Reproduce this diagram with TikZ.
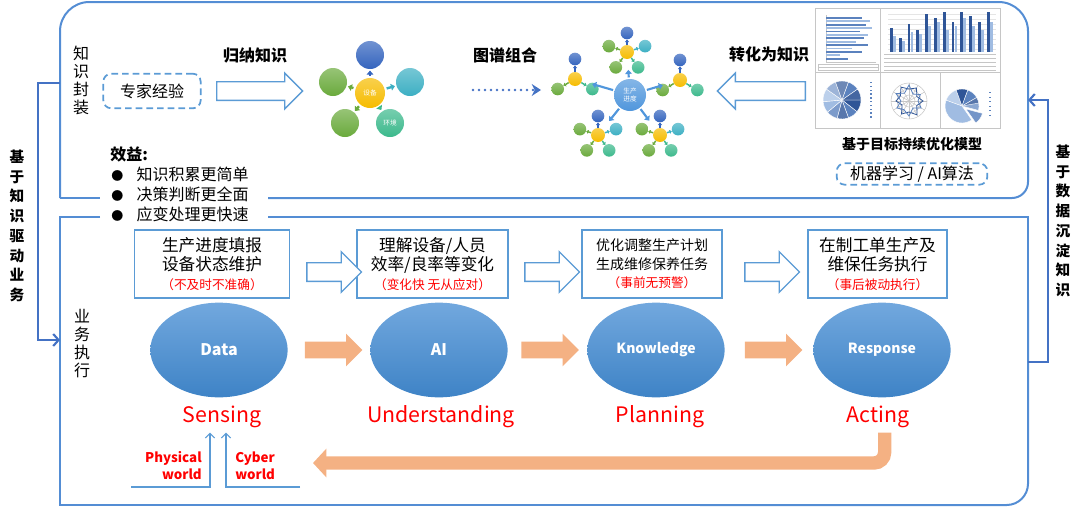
\documentclass[tikz,border=0pt]{standalone}
\usepackage{fontspec}
\setmainfont{Noto Sans CJK SC}
\usetikzlibrary{shapes.geometric, shapes.arrows, arrows.meta, positioning, calc}

\definecolor{frameblue}{RGB}{84,141,212}
\definecolor{linkblue}{RGB}{68,114,196}
\definecolor{boxblue}{RGB}{91,155,213}
\definecolor{salmon}{RGB}{244,177,131}
\definecolor{ellTop}{RGB}{114,168,222}
\definecolor{ellBot}{RGB}{62,131,198}
\definecolor{nodeBlue}{RGB}{52,100,190}
\definecolor{nodeYellow}{RGB}{246,188,0}
\definecolor{nodeGreen}{RGB}{106,170,60}
\definecolor{nodeTeal}{RGB}{60,175,195}
\definecolor{nodeMint}{RGB}{60,185,140}
\definecolor{nodeCore}{RGB}{80,150,220}
\definecolor{chartDark}{RGB}{47,85,151}
\definecolor{chartMid}{RGB}{91,130,190}
\definecolor{chartLight}{RGB}{160,188,226}

\newcommand{\warnline}[1]{{\fontsize{9.5}{14}\selectfont\color{red}#1}}

\tikzset{
  % frames and side connectors
  panelframe/.style={draw=frameblue, line width=1.5pt},
  sidelink/.style={draw=linkblue, line width=1.6pt, -{Straight Barb[length=4pt, width=9pt, line width=1.6pt]}},
  sidelabel/.style={align=center, font=\bfseries\fontsize{11}{14.8}\selectfont},
  seclabel/.style={align=center, font=\fontsize{12}{13.5}\selectfont},
  % top row
  headtext/.style={font=\bfseries\fontsize{12}{14}\selectfont},
  dashbox/.style={rectangle, rounded corners=6pt, draw=boxblue, line width=1.3pt, dash pattern=on 5pt off 3pt, font=\fontsize{12}{14}\selectfont},
  hollowarrow/.style={single arrow, draw=boxblue, line width=1pt, fill=white, inner xsep=0pt, inner ysep=6.5pt,
    minimum height=#1, minimum width=26pt, single arrow head extend=6.5pt},
  dotarrow/.style={draw=linkblue, line width=2pt, line cap=round, dash pattern=on 0pt off 4.5pt, -{Stealth[length=7pt, width=9pt]}},
  core/.style={circle, inner sep=0pt, top color=#1!70!white, bottom color=#1, draw=none, text=white, align=center, font=\fontsize{5}{5.5}\selectfont},
  sat/.style={circle, inner sep=0pt, top color=#1!70!white, bottom color=#1, draw=none, text=white, align=center, font=\fontsize{5}{5.5}\selectfont},
  graphtip/.style={draw=#1, line width=1.8pt, -{Triangle[length=3pt, width=5pt]}, shorten <=1.5pt, shorten >=1pt},
  chartline/.style={draw=gray!45, line width=0.4pt},
  % bottom row
  stagebox/.style={rectangle, draw=boxblue, line width=1.2pt, fill=white, minimum height=51pt, align=center, inner sep=2pt, font=\fontsize{12.5}{14}\selectfont},
  stage/.style={ellipse, minimum width=103pt, minimum height=71pt, top color=ellTop, bottom color=ellBot, text=white, font=\bfseries\fontsize{12}{14}\selectfont},
  stagename/.style={text=red, font=\fontsize{16}{18}\selectfont},
  flowarrow/.style={single arrow, fill=salmon, draw=none, inner xsep=0pt, inner ysep=6pt, minimum height=43pt, minimum width=24pt, single arrow head extend=6pt},
  returnarrow/.style={draw=salmon, line width=10pt, rounded corners=8pt, -{Triangle[length=10pt, width=21pt]}},
  worldlink/.style={draw=boxblue, line width=0.8pt, -{Straight Barb[length=3.5pt, width=7pt]}},
  worldtext/.style={text=red, font=\bfseries\fontsize{10}{12.8}\selectfont, inner sep=0pt},
}

\begin{document}
\begin{tikzpicture}[x=0.75pt, y=-0.75pt]
  \useasboundingbox (0,0) rectangle (1080,507);

  % Frames
  \draw[panelframe, rounded corners=22pt] (60,198) -- (60,2) -- (1028,2) -- (1028,100);
  \draw[panelframe, rounded corners=12pt] (1028,100) -- (1028,198) -- (268,198);
  \draw[panelframe] (60,198) -- (100,198);
  \draw[panelframe] (100,217) -- (60,217) -- (60,505) -- (700,505);
  \draw[panelframe, rounded corners=16pt] (700,505) -- (1028,505) -- (1028,300);
  \draw[panelframe] (1028,300) -- (1028,217) -- (268,217);

  % Side connectors
  \coordinate (knowOut) at (60,83);
  \coordinate (bizIn) at (60,340);
  \coordinate (bizOut) at (1028,362);
  \coordinate (dataIn) at (1028,100);
  \draw[sidelink] (knowOut) -- ++(-22,0) |- (bizIn);
  \draw[sidelink] (bizOut) -- ++(20,0) |- (dataIn);
  \node[sidelabel] (leftLabel) at (17,226) {基\\于\\知\\识\\驱\\动\\业\\务};
  \node[sidelabel] (rightLabel) at (1063,221) {基\\于\\数\\据\\沉\\淀\\知\\识};

  % Section labels
  \node[seclabel] (knowLabel) at (81,80) {知\\识\\封\\装};
  \node[seclabel] (bizLabel) at (82,344) {业\\务\\执\\行};

  % Top row: expert knowledge
  \node[dashbox, minimum width=73pt, minimum height=26pt] (expert) at (152,91) {专家经验};
  \node[hollowarrow=64.5pt] (induce) at (255,91) {};
  \node[headtext] (induceT) at (255,55) {归纳知识};

  % Device graph
  \node[core=nodeYellow, minimum size=22.5pt] (dev) at (370,93) {设备};
  \foreach \n/\x/\y/\c/\t in {devT/370/55/nodeBlue/{}, devL/333/82/nodeGreen/{}, devR/410/82/nodeTeal/{},
                              devBL/345/123/nodeGreen/{}, devBR/390/123/nodeMint/环境} {
    \node[sat=\c, minimum size=21pt] (\n) at (\x,\y) {\t};
    \draw[graphtip=\c] (dev) -- (\n);
  }

  \node[headtext] (graphT) at (505,55) {图谱组合};
  \coordinate (dotStart) at (473,90);
  \coordinate (dotEnd) at (541,90);
  \draw[dotarrow] (dotStart) -- (dotEnd);

  % Production graph
  \node[core=nodeCore, minimum size=24pt] (prog) at (630,95) {生产\\进度};
  \foreach \k/\x/\y in {cT/627/52, cBL/598/135, cBR/660/135} {
    \node[core=nodeYellow, minimum size=10.5pt] (\k) at (\x,\y) {};
    \foreach \a/\c in {270/nodeBlue, 198/nodeGreen, 342/nodeTeal, 126/nodeGreen, 54/nodeMint} {
      \node[sat=\c, minimum size=9.5pt] (\k\a) at ($(\k)+(\a:19)$) {};
      \draw[draw=\c, line width=1.1pt, -{Triangle[length=1.8pt, width=3pt]}] (\k) -- (\k\a);
    }
  }
  \foreach \k/\x/\y in {cL/575/79, cR/680/80} {
    \node[core=nodeYellow, minimum size=10.5pt] (\k) at (\x,\y) {};
    \foreach \a/\c in {270/nodeBlue, 150/nodeGreen, 30/nodeMint} {
      \node[sat=\c, minimum size=9.5pt] (\k\a) at ($(\k)+(\a:20)$) {};
      \draw[draw=\c, line width=1.1pt, -{Triangle[length=1.8pt, width=3pt]}] (\k) -- (\k\a);
    }
  }
  \foreach \k in {cT, cL, cR, cBL, cBR}
    \draw[draw=nodeCore, line width=1.6pt, -{Triangle[length=3pt, width=5pt]}, shorten <=1pt, shorten >=8pt] (prog) -- (\k);

  % Models to knowledge
  \node[headtext] (convT) at (769,54) {转化为知识};
  \node[hollowarrow=66pt, shape border rotate=180] (convert) at (766,91) {};

  % Chart panel
  \fill[white] (815,8) rectangle (1000,128);
  \draw[chartline] (815,8) rectangle (1000,128);
  \draw[chartline] (880,8) -- (880,128) (815,72) -- (1000,72) (940,72) -- (940,128);
  % bars
  \draw[chartline] (826,15) -- (826,62) -- (876,62);
  \foreach \i/\l/\c in {0/36/chartMid, 1/44/chartLight, 2/40/chartMid, 3/46/chartLight, 4/34/chartMid, 5/42/chartLight,
                        6/38/chartMid, 7/30/chartLight, 8/42/chartMid, 9/26/chartLight, 10/36/chartMid, 11/14/chartLight, 12/22/chartMid}
    \fill[\c] (826,17+3.4*\i) rectangle ++(\l,1.7);
  \draw[chartline] (818,64) rectangle (878,70);
  \draw[chartline] (818,67) -- (878,67);
  % columns
  \foreach \y in {14,19,...,49} \draw[gray!20, line width=0.3pt] (888,\y) -- (996,\y);
  \foreach \i/\a/\b in {0/24/16, 1/14/11, 2/28/20, 3/22/18, 4/38/26, 5/34/30, 6/40/22, 7/30/26, 8/40/34,
                        9/36/26, 10/30/22, 11/40/30}
  {
    \fill[chartDark] (890+8.8*\i,52) rectangle ++(2.8,-\a);
    \fill[chartLight] (893+8.8*\i,52) rectangle ++(2.8,-\b);
  }
  \foreach \y in {54,58,62,66,70} \draw[chartline] (884,\y) -- (996,\y);
  % pie
  \foreach \s/\e/\c in {0/38/chartDark, 38/70/chartMid, 70/105/chartDark!80!white, 105/140/chartMid!80!white,
                        140/175/chartLight, 175/215/chartLight!70!white, 215/250/chartMid!60!white,
                        250/290/chartDark!70!white, 290/325/chartMid, 325/360/chartDark!90!white}
    \fill[\c, draw=white, line width=0.3pt] (842,100) -- ++(\s:19) arc (\s:\e:19) -- cycle;
  \foreach \i in {0,...,9} \fill[chartMid] (870,82+3.8*\i) rectangle ++(1.6,1.3);
  % radar
  \begin{scope}[shift={(909,101)}]
    \foreach \r in {6,12,18} \draw[chartline] (0,0) circle[radius=\r];
    \foreach \a in {0,30,...,330} \draw[chartline] (0,0) -- (\a:18);
    \draw[chartDark, line width=0.6pt] (0:14) -- (30:9) -- (60:16) -- (90:11) -- (120:15) -- (150:8) -- (180:13)
      -- (210:10) -- (240:16) -- (270:12) -- (300:15) -- (330:9) -- cycle;
    \draw[chartMid, line width=0.6pt] (0:9) -- (30:14) -- (60:8) -- (90:15) -- (120:10) -- (150:14) -- (180:8)
      -- (210:15) -- (240:9) -- (270:16) -- (300:8) -- (330:13) -- cycle;
  \end{scope}
  % exploded pie
  \begin{scope}[shift={(962,106)}]
    \foreach \s/\e/\c in {200/250/chartLight!70!white, 250/290/chartDark, 290/330/chartMid, 330/370/chartDark!80!white,
                          -10/15/chartMid!70!white, 55/200/chartLight}
      \fill[\c, draw=white, line width=0.3pt] (0,0) -- (\s:17) arc (\s:\e:17) -- cycle;
    \fill[chartMid!85!white, draw=white, line width=0.3pt] (4,3) -- ++(15:17) arc (15:55:17) -- cycle;
  \end{scope}
  \foreach \i in {0,...,5} \fill[chartMid] (989,92+4.5*\i) rectangle ++(1.6,1.3);

  \node[font=\bfseries\fontsize{10.5}{12}\selectfont] (modelT) at (912,144) {基于目标持续优化模型};
  \node[dashbox, minimum width=113pt, minimum height=16pt, inner ysep=1pt] (mlBox) at (912,174) {机器学习 / AI算法};

  % Benefits
  \node[headtext, anchor=west, inner sep=0pt] (benT) at (110,154) {效益:};
  \foreach \n/\y/\t in {ben1/174/知识积累更简单, ben2/194/决策判断更全面, ben3/214/应变处理更快速}
    \node[anchor=west, inner sep=0pt, font=\fontsize{12}{14}\selectfont] (\n) at (111,\y)
      {\makebox[19pt][l]{\fontsize{9}{9}\selectfont ●}\t};

  % Bottom row: business stages
  \node[stagebox, minimum width=116pt] (box1) at (212,264) {生产进度填报\\设备状态维护\\\warnline{（不及时不准确）}};
  \node[stagebox, minimum width=113pt] (box2) at (432.5,264) {理解设备/人员\\效率/良率等变化\\\warnline{（变化快 无从应对）}};
  \node[stagebox, minimum width=105pt, font=\fontsize{10.5}{14}\selectfont] (box3) at (652,264) {优化调整生产计划\\生成维修保养任务\\\warnline{（事前无预警）}};
  \node[stagebox, minimum width=104pt] (box4) at (877.5,264) {在制工单生产及\\维保任务执行\\\warnline{（事后被动执行）}};
  \node[hollowarrow=41pt, minimum width=30pt, single arrow head extend=8.25pt] (boxArrow1) at (329.5,272) {};
  \node[hollowarrow=41pt, minimum width=30pt, single arrow head extend=8.25pt] (boxArrow2) at (547.5,272) {};
  \node[hollowarrow=41pt, minimum width=30pt, single arrow head extend=8.25pt] (boxArrow3) at (767.5,272) {};

  % Ellipses
  \node[stage] (data) at (219,350) {Data};
  \node[stage] (ai) at (439,350) {AI};
  \node[stage, font=\bfseries\fontsize{10.5}{12}\selectfont] (know) at (656,350) {Knowledge};
  \node[stage, font=\bfseries\fontsize{10.5}{12}\selectfont] (resp) at (882,350) {Response};
  \node[flowarrow] (flow1) at (329.5,350) {};
  \node[flowarrow] (flow2) at (546,350) {};
  \node[flowarrow] (flow3) at (769.5,350) {};

  \node[stagename] (sensing) at (222,417) {Sensing};
  \node[stagename] (understanding) at (441,417) {Understanding};
  \node[stagename] (planning) at (660,417) {Planning};
  \node[stagename] (acting) at (878,417) {Acting};

  % Feedback
  \coordinate (retEnd) at (313,463);
  \draw[returnarrow] ([xshift=5pt]acting.south) |- (retEnd);

  % Physical / cyber inputs
  \coordinate (physIn) at (131,487);
  \coordinate (cyberIn) at (300,487);
  \draw[worldlink] (physIn) -| ([xshift=-9pt]sensing.south);
  \draw[worldlink] (cyberIn) -| ([xshift=3pt]sensing.south);
  \node[worldtext, anchor=east, align=right] (phys) at (202,466) {Physical\\world};
  \node[worldtext, anchor=west, align=left] (cyber) at (235,466) {Cyber\\world};
\end{tikzpicture}
\end{document}
